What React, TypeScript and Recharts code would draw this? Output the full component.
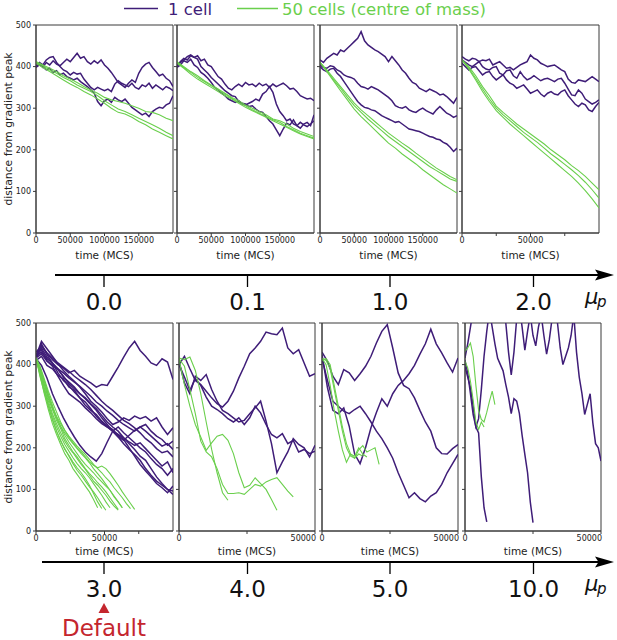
import { LineChart, Line, XAxis, YAxis, ReferenceArea } from 'recharts';

const PURPLE = '#3f1d78';
const GREEN = '#6acf4c';
const RED = '#c4262e';
const AXIS = '#3a3a3a';
const TEXT = '#222';
const FONT = "'DejaVu Sans', sans-serif";

const Y_TICKS = [0, 100, 200, 300, 400, 500];
const TICKS_LONG = [0, 50000, 100000, 150000];
const TICKS_100K = [0, 25000, 50000, 75000];
const TICKS_50K = [0, 25000, 50000];
const TOP_LABELS = ['0.0', '0.1', '1.0', '2.0'];
const BOTTOM_LABELS = ['3.0', '4.0', '5.0', '10.0'];

// ---- mu_p = 0.0 (step 5000 / 10000)
const p1a = [400, 406, 398, 410, 404, 414, 406, 402, 410, 418, 412, 422, 432, 420, 424, 412, 406, 414, 408, 416, 404, 396, 386, 374, 362, 356, 350, 360, 368, 362, 384, 398, 406, 410, 398, 388, 378, 382, 372, 366, 352];
const p1b = [402, 410, 404, 416, 422, 424, 410, 400, 392, 388, 380, 386, 382, 384, 370, 360, 350, 344, 350, 346, 342, 346, 340, 358, 366, 360, 356, 352, 360, 350, 346, 356, 352, 360, 348, 356, 350, 344, 352, 348, 342];
const p1c = [398, 404, 400, 392, 396, 386, 390, 380, 384, 376, 372, 368, 372, 364, 358, 352, 344, 336, 316, 306, 318, 322, 314, 326, 320, 316, 322, 312, 302, 296, 290, 284, 288, 280, 292, 298, 302, 300, 308, 312, 330];
const g1a = [412, 404, 396, 388, 378, 370, 362, 352, 344, 336, 326, 320, 316, 312, 306, 300, 292, 290, 284, 276, 270];
const g1b = [410, 402, 392, 384, 374, 366, 356, 348, 340, 330, 318, 308, 298, 292, 284, 276, 268, 260, 252, 242, 234];
const g1c = [408, 398, 388, 378, 368, 358, 350, 340, 332, 322, 312, 300, 290, 286, 278, 268, 260, 250, 242, 234, 226];

// ---- mu_p = 0.1
const p2a = [402, 410, 416, 424, 428, 422, 426, 414, 418, 404, 400, 388, 376, 370, 358, 348, 344, 352, 358, 352, 362, 356, 358, 352, 360, 354, 358, 350, 358, 352, 356, 360, 354, 346, 348, 340, 330, 326, 322, 324, 318];
const p2b = [400, 412, 420, 416, 426, 422, 418, 400, 392, 384, 374, 366, 358, 350, 342, 336, 330, 328, 316, 312, 310, 304, 306, 298, 292, 290, 280, 270, 262, 248, 234, 250, 264, 260, 272, 258, 252, 262, 266, 258, 284];
const p2c = [398, 404, 414, 410, 418, 404, 398, 386, 380, 372, 362, 350, 344, 336, 330, 322, 318, 314, 318, 310, 308, 312, 316, 322, 318, 334, 340, 352, 338, 310, 292, 282, 270, 274, 262, 258, 266, 260, 256, 262, 270];
const g2a = [412, 400, 388, 378, 366, 356, 346, 336, 326, 318, 308, 300, 292, 284, 274, 270, 262, 252, 244, 238, 232];
const g2b = [410, 398, 386, 374, 364, 354, 344, 334, 324, 314, 306, 296, 288, 280, 272, 266, 256, 248, 240, 234, 228];
const g2c = [408, 396, 382, 370, 360, 350, 340, 330, 322, 312, 302, 294, 286, 278, 270, 262, 254, 246, 238, 232, 226];

// ---- mu_p = 1.0
const p3a = [416, 410, 420, 426, 432, 428, 440, 436, 444, 452, 460, 468, 484, 462, 452, 446, 440, 436, 430, 424, 412, 424, 414, 404, 392, 384, 372, 362, 358, 348, 344, 340, 346, 342, 338, 332, 334, 328, 320, 312, 326];
const p3b = [404, 398, 396, 402, 400, 392, 388, 380, 376, 374, 370, 360, 352, 350, 346, 352, 348, 344, 338, 332, 326, 318, 306, 302, 300, 304, 296, 292, 290, 296, 300, 294, 290, 286, 296, 304, 296, 288, 284, 278, 282];
const p3c = [400, 392, 388, 394, 396, 384, 376, 364, 352, 340, 328, 316, 308, 302, 300, 296, 294, 288, 282, 278, 274, 270, 266, 268, 262, 256, 250, 248, 246, 244, 240, 236, 232, 230, 226, 224, 218, 214, 206, 196, 204];
const g3a = [410, 392, 372, 352, 332, 312, 296, 282, 268, 254, 240, 228, 216, 205, 192, 180, 168, 156, 146, 136, 128];
const g3b = [410, 390, 368, 348, 326, 306, 290, 274, 260, 246, 232, 220, 208, 196, 184, 172, 160, 150, 140, 130, 124];
const g3c = [410, 388, 365, 342, 320, 298, 280, 264, 248, 232, 216, 204, 190, 178, 166, 152, 140, 128, 116, 106, 96];

// ---- mu_p = 2.0 (step 2500 / 5000)
const p4a = [424, 418, 414, 420, 418, 412, 416, 414, 418, 404, 408, 412, 404, 396, 398, 392, 398, 404, 408, 412, 428, 420, 416, 408, 404, 400, 402, 404, 398, 392, 388, 370, 362, 360, 368, 366, 364, 370, 376, 370, 364];
const p4b = [416, 410, 404, 400, 406, 412, 400, 394, 392, 398, 400, 384, 380, 390, 392, 378, 372, 388, 376, 368, 372, 378, 372, 366, 370, 372, 368, 364, 370, 372, 360, 346, 332, 330, 344, 336, 322, 316, 310, 314, 320];
const p4c = [408, 400, 392, 398, 400, 390, 380, 386, 388, 376, 368, 374, 380, 368, 360, 356, 348, 352, 356, 346, 336, 340, 344, 334, 328, 336, 340, 334, 332, 340, 344, 330, 320, 310, 304, 312, 308, 296, 292, 304, 314];
const g4a = [416, 400, 378, 352, 330, 305, 290, 276, 262, 250, 238, 226, 214, 200, 188, 176, 162, 150, 136, 120, 104];
const g4b = [416, 396, 372, 346, 322, 300, 284, 270, 256, 242, 230, 218, 204, 190, 178, 165, 152, 138, 122, 104, 84];
const g4c = [416, 394, 368, 340, 316, 294, 278, 262, 248, 234, 220, 206, 192, 178, 164, 150, 136, 120, 102, 82, 60];

// ---- mu_p = 3.0 (step 4000 / 3000)
const p5a = [420, 446, 428, 412, 400, 392, 380, 386, 372, 364, 356, 346, 352, 350, 372, 394, 418, 440, 456, 434, 420, 404, 398, 414, 406, 364];
const p5b = [420, 456, 438, 420, 402, 386, 372, 360, 346, 330, 312, 300, 286, 270, 256, 262, 272, 266, 276, 270, 275, 264, 272, 250, 232, 248];
const p5c = [424, 440, 418, 402, 388, 372, 354, 342, 330, 318, 304, 290, 272, 256, 240, 232, 224, 214, 206, 212, 198, 184, 170, 156, 166, 140];
const p5d = [414, 398, 368, 330, 300, 272, 248, 226, 206, 190, 178, 168, 186, 214, 240, 250, 236, 224, 212, 200, 190, 174, 160, 150, 134, 150];
const p5e = [420, 430, 414, 404, 380, 362, 350, 334, 320, 310, 294, 276, 262, 250, 240, 226, 210, 196, 184, 170, 150, 134, 120, 110, 100, 96];
const p5f = [410, 420, 398, 390, 374, 366, 346, 338, 320, 302, 290, 280, 264, 252, 244, 230, 220, 200, 180, 160, 144, 130, 114, 104, 92, 108];
const p5g = [430, 444, 428, 416, 404, 394, 384, 372, 362, 352, 340, 326, 312, 300, 290, 278, 266, 258, 248, 236, 222, 212, 198, 188, 192, 178];
const p5h = [416, 426, 408, 398, 390, 380, 368, 358, 348, 336, 324, 310, 300, 288, 278, 266, 256, 248, 240, 250, 240, 228, 216, 204, 210, 196];
const p5i = [420, 436, 410, 396, 372, 350, 330, 320, 310, 296, 284, 270, 258, 250, 240, 226, 218, 230, 242, 250, 256, 240, 228, 220, 206, 216];
const p5j = [418, 450, 424, 404, 390, 370, 358, 346, 330, 320, 306, 294, 278, 262, 250, 240, 224, 210, 196, 180, 170, 150, 130, 114, 100, 88];
const g5a = [416, 378, 342, 300, 268, 240, 218, 196, 182, 166, 152, 140, 126, 110, 90, 70, 54];
const g5b = [416, 374, 330, 292, 258, 232, 208, 186, 170, 150, 136, 122, 108, 94, 76, 56];
const g5c = [416, 386, 352, 318, 292, 266, 246, 222, 206, 190, 178, 164, 150, 138, 128, 116, 106, 94, 80, 66, 52];
const g5d = [416, 390, 362, 330, 302, 272, 250, 230, 214, 200, 186, 172, 160, 150, 140, 128, 118, 108, 98, 84, 70, 56];
const g5e = [416, 396, 366, 336, 310, 286, 262, 242, 226, 212, 200, 190, 178, 166, 158, 152, 156, 150, 138, 124, 110, 94, 80, 66, 52];
const g5f = [416, 370, 334, 300, 268, 240, 216, 198, 180, 162, 146, 134, 120, 106, 94, 80, 64, 50];
const g5g = [416, 380, 344, 312, 282, 258, 236, 216, 200, 188, 174, 160, 148, 134, 120, 110, 98, 86, 72, 60, 50];
const g5h = [416, 388, 354, 322, 296, 272, 252, 236, 222, 210, 198, 186, 176, 164, 150, 138, 126, 112, 98, 82, 70, 56];
const g5i = [416, 378, 340, 306, 276, 250, 228, 208, 192, 176, 162, 150, 140, 128, 114, 100, 86, 70, 56];
const g5j = [416, 392, 360, 326, 298, 276, 258, 242, 228, 216, 204, 194, 184, 172, 160, 150, 140, 128, 118, 104, 92, 80, 66, 54];

// ---- mu_p = 4.0 (step 2000)
const p6a = [400, 420, 390, 362, 352, 336, 320, 306, 298, 312, 336, 368, 396, 426, 440, 456, 478, 474, 472, 488, 440, 426, 436, 404, 372, 378];
const p6b = [408, 356, 330, 372, 362, 376, 340, 312, 290, 282, 272, 262, 266, 282, 296, 312, 264, 210, 140, 166, 190, 222, 208, 200, 178, 206];
const p6c = [400, 370, 338, 366, 350, 322, 300, 292, 282, 270, 262, 272, 256, 272, 300, 284, 256, 232, 224, 234, 210, 218, 190, 196, 186, 192];
const g6a = [416, 412, 418, 386, 330, 262, 196, 140, 92, 74];
const g6b = [412, 352, 300, 256, 226, 194, 212, 228, 232, 218, 186, 140, 104, 110, 128, 114, 100, 76, 50];
const g6c = [414, 396, 340, 282, 216, 190, 178, 150, 112, 90, 90, 92, 88, 100, 112, 108, 118, 124, 128, 112, 96, 82];

// ---- mu_p = 5.0 (step 2000 / 1500)
const p7a = [430, 408, 372, 352, 388, 380, 362, 378, 396, 420, 452, 480, 496, 440, 380, 350, 342, 320, 290, 262, 240, 200, 186, 185, 198, 208];
const p7b = [424, 345, 290, 282, 296, 252, 185, 162, 200, 248, 285, 318, 300, 330, 350, 362, 378, 398, 425, 450, 485, 450, 428, 404, 382, 416];
const p7c = [415, 362, 312, 300, 288, 282, 292, 300, 282, 262, 240, 222, 200, 175, 140, 110, 80, 92, 78, 70, 84, 92, 112, 140, 162, 184];
const g7a = [415, 400, 350, 290, 240, 195, 165, 185, 180, 200, 185, 178];
const g7b = [410, 415, 400, 350, 300, 250, 210, 185, 175, 195, 205, 190, 195, 200, 160];
const g7c = [415, 410, 390, 340, 290, 240, 200, 180, 175, 185, 180];

// ---- mu_p = 10.0 (step 1000)
const p8a = [416, 450, 490, 530, 570, 560, 590, 620, 580, 560, 540, 520, 530, 560, 540, 500, 430, 375, 430, 510, 540, 490, 435, 480, 520, 470, 445, 490, 520, 470, 425, 460, 510, 540, 500, 440, 400, 420, 440, 470, 520, 430, 370, 330, 280, 305, 330, 260, 210, 200, 168];
const p8b = [395, 370, 345, 300, 250, 236, 130, 56, 22];
const p8c = [410, 380, 330, 280, 250, 270, 340, 420, 480, 530, 490, 450, 415, 400, 385, 352, 322, 282, 318, 312, 282, 230, 184, 140, 70, 20];
const g8a = [432, 440, 452, 420, 350, 290, 268, 262, 285, 312, 336, 304];
const g8b = [408, 392, 360, 315, 262, 244, 262, 250];

type Trace = { values: number[]; step: number };

interface PanelSpec {
  x: number;
  y: number;
  w: number;
  xMax: number;
  xTicks: number[];
  purple: Trace[];
  green: Trace[];
  yLabels: boolean;
  labelOffset: number;
}

const tr = (values: number[], step: number): Trace => ({ values, step });
const pts = (t: Trace) => t.values.map((v, i) => ({ t: i * t.step, v }));
const fmtX = (v: number) => (v % 50000 === 0 ? String(v) : '');

const YW = 36;
const MT = 6;
const MR = 18;
const XH = 32;
const PH = 208;
const TOP_Y = 25;
const BOT_Y = 323;

const PANELS: PanelSpec[] = [
  { x: 36, y: TOP_Y, w: 137, xMax: 200000, xTicks: TICKS_LONG, yLabels: true, labelOffset: 6,
    purple: [tr(p1a, 5000), tr(p1b, 5000), tr(p1c, 5000)], green: [tr(g1a, 10000), tr(g1b, 10000), tr(g1c, 10000)] },
  { x: 177, y: TOP_Y, w: 137, xMax: 200000, xTicks: TICKS_LONG, yLabels: false, labelOffset: 6,
    purple: [tr(p2a, 5000), tr(p2b, 5000), tr(p2c, 5000)], green: [tr(g2a, 10000), tr(g2b, 10000), tr(g2c, 10000)] },
  { x: 320, y: TOP_Y, w: 137, xMax: 200000, xTicks: TICKS_LONG, yLabels: false, labelOffset: 6,
    purple: [tr(p3a, 5000), tr(p3b, 5000), tr(p3c, 5000)], green: [tr(g3a, 10000), tr(g3b, 10000), tr(g3c, 10000)] },
  { x: 462, y: TOP_Y, w: 137, xMax: 100000, xTicks: TICKS_100K, yLabels: false, labelOffset: 6,
    purple: [tr(p4a, 2500), tr(p4b, 2500), tr(p4c, 2500)], green: [tr(g4a, 5000), tr(g4b, 5000), tr(g4c, 5000)] },
  { x: 36, y: BOT_Y, w: 137, xMax: 100000, xTicks: TICKS_100K, yLabels: true, labelOffset: 8,
    purple: [p5a, p5b, p5c, p5d, p5e, p5f, p5g, p5h, p5i, p5j].map((v) => tr(v, 4000)),
    green: [g5a, g5b, g5c, g5d, g5e, g5f, g5g, g5h, g5i, g5j].map((v) => tr(v, 3000)) },
  { x: 179, y: BOT_Y, w: 136, xMax: 50000, xTicks: TICKS_50K, yLabels: false, labelOffset: 8,
    purple: [tr(p6a, 2000), tr(p6b, 2000), tr(p6c, 2000)], green: [tr(g6a, 2000), tr(g6b, 2000), tr(g6c, 2000)] },
  { x: 322, y: BOT_Y, w: 136, xMax: 50000, xTicks: TICKS_50K, yLabels: false, labelOffset: 8,
    purple: [tr(p7a, 2000), tr(p7b, 2000), tr(p7c, 2000)], green: [tr(g7a, 1500), tr(g7b, 1500), tr(g7c, 1500)] },
  { x: 465, y: BOT_Y, w: 136, xMax: 50000, xTicks: TICKS_50K, yLabels: false, labelOffset: 8,
    purple: [tr(p8a, 1000), tr(p8b, 1000), tr(p8c, 1000)], green: [tr(g8a, 1000), tr(g8b, 1000)] },
];

// x tick label; the label sitting on the right edge of a panel is right-aligned
function XTick(props: any) {
  const { x, y, payload, xMax } = props;
  const label = fmtX(payload.value);
  if (!label) return null;
  const anchor = payload.value === xMax ? 'end' : 'middle';
  return (
    <text x={anchor === 'end' ? x + 1 : x} y={y} dy="0.71em" textAnchor={anchor} fontSize={8} fill={TEXT}>
      {label}
    </text>
  );
}

function Panel({ spec }: { spec: PanelSpec }) {
  const width = YW + spec.w + MR;
  const height = MT + PH + XH;
  return (
    <div style={{ position: 'absolute', left: spec.x - YW, top: spec.y - MT }}>
      <LineChart width={width} height={height} margin={{ top: MT, right: MR, bottom: 0, left: 0 }}>
        <XAxis
          type="number"
          dataKey="t"
          domain={[0, spec.xMax]}
          ticks={spec.xTicks}
          interval={0}
          allowDataOverflow
          tickSize={3}
          tickMargin={1}
          height={XH}
          stroke={AXIS}
          tick={(p: any) => <XTick {...p} xMax={spec.xMax} />}
          label={{ value: 'time (MCS)', position: 'insideBottom', offset: spec.labelOffset, fontSize: 10.5, fill: TEXT }}
        />
        <YAxis
          type="number"
          domain={[0, 500]}
          ticks={Y_TICKS}
          interval={0}
          allowDataOverflow
          width={YW}
          tickSize={3}
          tickMargin={2}
          stroke={AXIS}
          tick={{ fontSize: 8, fill: TEXT }}
          tickFormatter={spec.yLabels ? (v: number) => String(v) : () => ''}
        />
        {spec.purple.map((t, i) => (
          <Line key={`p${i}`} data={pts(t)} dataKey="v" type="linear" stroke={PURPLE} strokeWidth={1.5}
            dot={false} activeDot={false} isAnimationActive={false} />
        ))}
        {spec.green.map((t, i) => (
          <Line key={`g${i}`} data={pts(t)} dataKey="v" type="linear" stroke={GREEN} strokeWidth={1.1}
            dot={false} activeDot={false} isAnimationActive={false} />
        ))}
        <ReferenceArea x1={0} x2={spec.xMax} y1={0} y2={500} fill="none" stroke={AXIS} strokeWidth={1} ifOverflow="visible" />
      </LineChart>
    </div>
  );
}

function ParamAxis({ y, x0, labels }: { y: number; x0: number; labels: string[] }) {
  const ticks = [104, 247.5, 390, 533.5];
  return (
    <g>
      <line x1={x0} x2={600} y1={y} y2={y} stroke="#000" strokeWidth={2} />
      <polygon points={`614,${y} 595,${y - 5.5} 598.5,${y} 595,${y + 5.5}`} fill="#000" />
      {ticks.map((x, i) => (
        <g key={i}>
          <line x1={x} x2={x} y1={y} y2={y + 12} stroke="#000" strokeWidth={1.3} />
          <text x={x} y={y + 35} textAnchor="middle" fontSize={23} fill="#111">{labels[i]}</text>
        </g>
      ))}
      <text x={585} y={y + 29} fontSize={21} fontStyle="italic" fill="#111">μ</text>
      <text x={597} y={y + 32} fontSize={15} fontStyle="italic" fill="#111">p</text>
    </g>
  );
}

export default function App() {
  return (
    <div style={{ position: 'absolute', left: 0, top: 0, width: 617, height: 640, background: '#fff', fontFamily: FONT }}>
      {PANELS.map((p, i) => (
        <Panel key={i} spec={p} />
      ))}
      <svg width={617} height={640} style={{ position: 'absolute', left: 0, top: 0, pointerEvents: 'none' }} fontFamily={FONT}>
        <line x1={124} x2={158} y1={8.5} y2={8.5} stroke={PURPLE} strokeWidth={1.6} />
        <text x={168} y={14.5} fontSize={16.5} fill={PURPLE}>1 cell</text>
        <line x1={237} x2={278} y1={8.5} y2={8.5} stroke={GREEN} strokeWidth={1.6} />
        <text x={282} y={14.5} fontSize={16.5} fill={GREEN}>50 cells (centre of mass)</text>
        <text transform="translate(8.5,129) rotate(-90)" textAnchor="middle" dominantBaseline="central" fontSize={10.8} fill={TEXT}>
          distance from gradient peak
        </text>
        <text transform="translate(8.5,427) rotate(-90)" textAnchor="middle" dominantBaseline="central" fontSize={10.8} fill={TEXT}>
          distance from gradient peak
        </text>
        <ParamAxis y={275} x0={55} labels={TOP_LABELS} />
        <ParamAxis y={562} x0={42} labels={BOTTOM_LABELS} />
        <polygon points="104,603 98.5,613 109.5,613" fill={RED} />
        <text x={104} y={636} textAnchor="middle" fontSize={23} fill={RED}>Default</text>
      </svg>
    </div>
  );
}
